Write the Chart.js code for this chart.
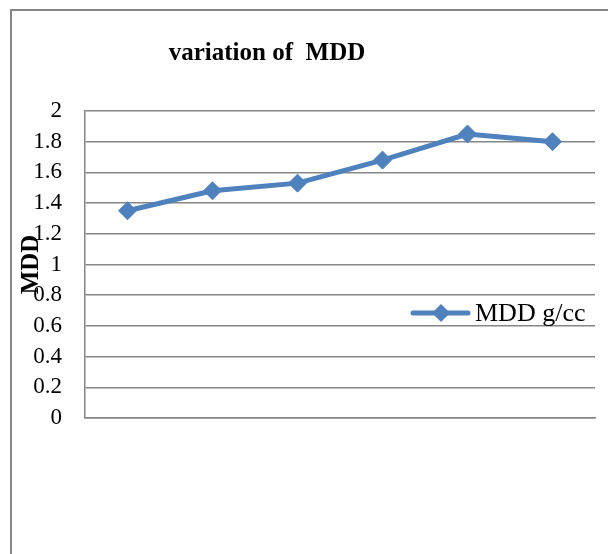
<!DOCTYPE html>
<html>
<head>
<meta charset="utf-8">
<script src="https://cdn.jsdelivr.net/npm/chart.js@4"></script>
<style>
  html, body { margin: 0; padding: 0; background: #fff; }
  #wrap { width: 608px; height: 554px; position: relative; }
</style>
</head>
<body>
<div id="wrap"><canvas id="lineChart" width="608" height="554"></canvas></div>
<script>
// données
var categories = ["1", "2", "3", "4", "5", "6"];
var mddValues = [1.35, 1.48, 1.53, 1.68, 1.85, 1.80];
var yTicks = [0, 0.2, 0.4, 0.6, 0.8, 1, 1.2, 1.4, 1.6, 1.8, 2];
var seriesLabel = "MDD g/cc";
var chartTitle = "variation of  MDD";
var axisTitle = "MDD";

var bleu = '#4f81bd';
var gris = '#868686';
var serif = '"Liberation Serif", "Times New Roman", serif';

/* cadre, titre et légende dessinés à la main */
var decor = {
    id: 'decor',
    beforeDraw: function(chart) {
        var ctx = chart.ctx;
        ctx.save();
        ctx.fillStyle = gris;
        ctx.fillRect(10, 9, 598, 2);
        ctx.fillRect(10, 9, 2, 545);
        ctx.restore();
    },
    afterDraw: function(chart) {
        var ctx = chart.ctx;
        var ca = chart.chartArea;
        var ds = chart.data.datasets[0];
        ctx.save();
        // titre
        ctx.fillStyle = '#000';
        ctx.font = 'bold 25px ' + serif;
        ctx.textAlign = 'center';
        ctx.textBaseline = 'alphabetic';
        ctx.fillText(chartTitle, 267, 60);
        // légende
        var lx = ca.right - 182, ly = ca.top + 202;
        ctx.strokeStyle = ds.borderColor;
        ctx.lineWidth = 5;
        ctx.lineCap = 'round';
        ctx.beginPath();
        ctx.moveTo(lx, ly);
        ctx.lineTo(lx + 55, ly);
        ctx.stroke();
        ctx.fillStyle = ds.pointBackgroundColor;
        ctx.beginPath();
        ctx.moveTo(lx + 28, ly - 9);
        ctx.lineTo(lx + 37, ly);
        ctx.lineTo(lx + 28, ly + 9);
        ctx.lineTo(lx + 19, ly);
        ctx.closePath();
        ctx.fill();
        ctx.fillStyle = '#000';
        ctx.font = '26px ' + serif;
        ctx.textAlign = 'left';
        ctx.fillText(ds.label, lx + 62, ly + 8);
        ctx.restore();
    }
};

var ctxL = document.getElementById('lineChart');
var myLineChart = new Chart(ctxL, {
    type: 'line',
    data: {
        labels: categories,
        datasets: [{
            label: seriesLabel,
            data: mddValues,
            borderColor: bleu,
            backgroundColor: bleu,
            pointBackgroundColor: bleu,
            pointBorderColor: bleu,
            borderWidth: 5,
            pointStyle: 'rectRot',
            pointRadius: 9,
            pointBorderWidth: 1,
            tension: 0
        }]
    },
    options: {
        responsive: false,
        animation: false,
        layout: {
            padding: { top: 111, right: 13, bottom: 136, left: 0 }
        },
        plugins: {
            legend: { display: false },
            title: { display: false },
            tooltip: { enabled: false }
        },
        scales: {
            x: {
                offset: true,
                grid: { display: false, drawTicks: false },
                border: { display: true, color: gris, width: 1.5 },
                ticks: { display: false },
                afterFit: function(s) { s.height = 0; }
            },
            y: {
                min: 0,
                max: 2,
                afterBuildTicks: function(s) {
                    s.ticks = yTicks.map(function(v) { return { value: v }; });
                },
                grid: { color: gris, lineWidth: 1.5, drawTicks: false },
                border: { display: true, color: gris, width: 1.5 },
                ticks: {
                    color: '#000',
                    padding: 23,
                    autoSkip: false,
                    font: { family: serif, size: 23 },
                    callback: function(v) { return String(v); }
                },
                title: {
                    display: true,
                    text: axisTitle,
                    color: '#000',
                    font: { family: serif, size: 25, weight: 'bold' },
                    padding: { top: 17, bottom: 0 }
                },
                afterFit: function(s) { s.width = 85; }
            }
        }
    },
    plugins: [decor]
});
</script>
</body>
</html>
